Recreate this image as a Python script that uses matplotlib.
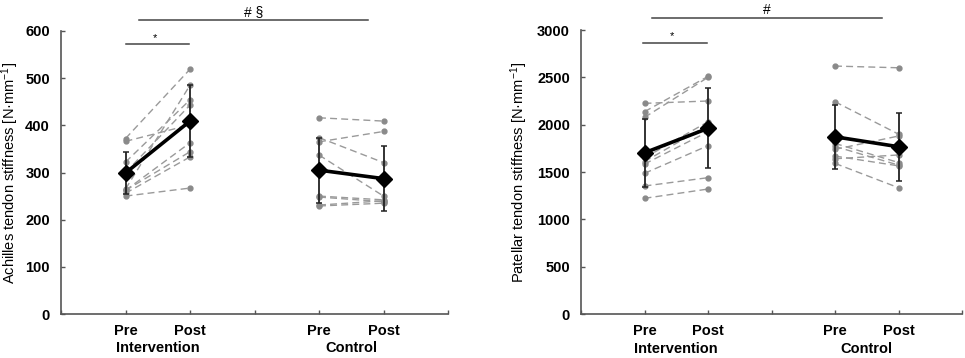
import matplotlib
matplotlib.use("Agg")
import matplotlib.pyplot as plt
import matplotlib.transforms as mtrans

plt.rcParams['font.family'] = ['Liberation Sans', 'DejaVu Sans']
plt.rcParams['mathtext.fontset'] = 'custom'
plt.rcParams['mathtext.rm'] = 'Liberation Sans'
plt.rcParams['mathtext.it'] = 'Liberation Sans'

# ---------------- data ----------------
time_labels = ["Pre", "Post"]
group_labels = ["Intervention", "Control"]

# Achilles tendon stiffness (N/mm) - individual subjects
ach_int_pre = [372, 366, 322, 300, 265, 262, 262, 256, 250]
ach_int_post = [519, 401, 454, 443, 485, 363, 344, 333, 267]
ach_con_pre = [416, 365, 374, 337, 250, 248, 231, 229]
ach_con_post = [409, 387, 321, 250, 242, 238, 240, 235]
ach_int_mean = [299, 409]
ach_int_sd = [45, 76]
ach_con_mean = [305, 287]
ach_con_sd = [69, 69]

# Patellar tendon stiffness (N/mm)
pat_int_pre = [2225, 2137, 2077, 1650, 1610, 1584, 1486, 1352, 1222]
pat_int_post = [2250, 2510, 2500, 2031, 1996, 1925, 1778, 1440, 1320]
pat_con_pre = [2619, 2242, 1802, 1770, 1739, 1668, 1640, 1591]
pat_con_post = [2601, 1900, 1600, 1573, 1880, 1565, 1680, 1334]
pat_int_mean = [1703, 1961]
pat_int_sd = [360, 422]
pat_con_mean = [1872, 1767]
pat_con_sd = [340, 361]

fig = plt.figure(figsize=(9.65, 3.58), dpi=100)
ax1 = fig.add_axes([61/965, 44/358, 387/965, 283/358])
ax2 = fig.add_axes([581/965, 44/358, 381/965, 284/358])

axis_col = '#555555'


def draw_panel(ax, ylabel, ymax, ystep, groups, sig, label_x):
    xpos = [[1, 2], [4, 5]]
    for (pre, post, mean, sd), xs in zip(groups, xpos):
        for a, b in zip(pre, post):
            ax.plot(xs, [a, b], linestyle=(0, (5, 3)), color='#9a9a9a', lw=1.0,
                    marker='o', ms=3.5, mfc='#8a8a8a', mec='#8a8a8a', zorder=2)
        ax.errorbar(xs, mean, yerr=sd, color='black', lw=2.6, ecolor='#222222',
                    elinewidth=1.3, capsize=2.5, capthick=1.1, marker='D', ms=8,
                    mfc='black', mec='black', zorder=4)
    ax.set_xlim(0, 6)
    ax.set_ylim(0, ymax)
    ax.set_yticks(range(0, ymax + 1, ystep))
    ax.set_xticks(range(0, 7))
    ax.set_xticklabels([])
    ax.tick_params(axis='x', direction='in', length=3, width=1, color=axis_col)
    ax.tick_params(axis='y', direction='in', length=3, width=1, color=axis_col,
                   labelsize=10.5, pad=8)
    for lab in ax.get_yticklabels():
        lab.set_fontweight('bold')
    for s in ['top', 'right']:
        ax.spines[s].set_visible(False)
    for s in ['left', 'bottom']:
        ax.spines[s].set_color(axis_col)
        ax.spines[s].set_linewidth(1.2)
    ax.set_ylabel(ylabel, fontsize=10.5)
    ax.yaxis.set_label_coords(label_x, 0.5)

    tr = mtrans.blended_transform_factory(ax.transData, ax.transAxes)
    for xs in xpos:
        for x, t in zip(xs, time_labels):
            ax.text(x, -0.035, t, transform=tr, ha='center', va='top',
                    fontsize=10.5, fontweight='bold')
    for xs, g in zip(xpos, group_labels):
        ax.text(sum(xs) / 2, -0.097, g, transform=tr, ha='center', va='top',
                fontsize=10.5, fontweight='bold')

    # significance bars
    for (x0, x1, y, label, fs, dy) in sig:
        ax.plot([x0, x1], [y, y], color='#444444', lw=1.1, clip_on=False)
        ax.text((x0 + x1) / 2 if label != '*' else (x0 + x1) / 2 - 0.04,
                y + dy, label, ha='center', va='bottom', fontsize=fs,
                clip_on=False)


draw_panel(ax1, "Achilles tendon stiffness [N·mm$^{-1}$]", 600, 100,
           [(ach_int_pre, ach_int_post, ach_int_mean, ach_int_sd),
            (ach_con_pre, ach_con_post, ach_con_mean, ach_con_sd)],
           [(1.21, 4.76, 623, "# §", 10, 3), (1.0, 1.98, 572, "*", 8, 3)],
           -0.104)

draw_panel(ax2, "Patellar tendon stiffness [N·mm$^{-1}$]", 3000, 500,
           [(pat_int_pre, pat_int_post, pat_int_mean, pat_int_sd),
            (pat_con_pre, pat_con_post, pat_con_mean, pat_con_sd)],
           [(1.12, 4.74, 3127, "#", 10, 15), (0.98, 1.98, 2863, "*", 8, 15)],
           -0.134)

fig.savefig("out.png", dpi=100)
